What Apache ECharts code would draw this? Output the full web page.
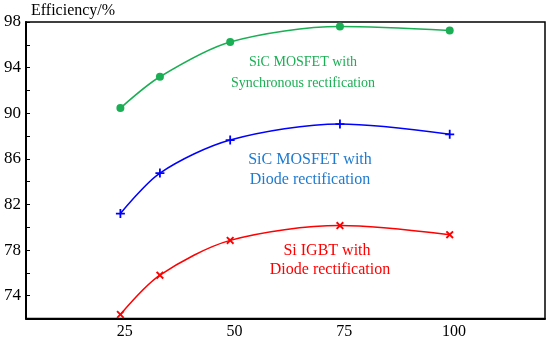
<!DOCTYPE html>
<html>
<head>
<meta charset="utf-8">
<script src="https://cdn.jsdelivr.net/npm/echarts@6/dist/echarts.min.js"></script>
<style>html,body{margin:0;padding:0;background:#fff}#c{width:550px;height:341px}</style>
</head>
<body>
<div id="c"></div>
<script>
const loads = [24, 33, 49, 74, 99];
const sicSync = [90.45, 93.2, 96.25, 97.6, 97.25];
const sicDiode = [81.2, 84.75, 87.65, 89.05, 88.15];
const siIgbt = [72.35, 75.8, 78.85, 80.15, 79.35];
const xTickLabels = [25, 50, 75, 100];
const yTickLabels = [74, 78, 82, 86, 90, 94, 98];

const FONT = '"Liberation Serif", "Times New Roman", serif';
const chart = echarts.init(document.getElementById('c'), null, {renderer: 'canvas'});
const pair = arr => loads.map((x, i) => [x, arr[i]]);
const plusPath = 'path://M-1,-5H1V-1H5V1H1V5H-1V1H-5V-1H-1Z';
const crossPath = 'path://M-4.2,-2.8L-2.8,-4.2L0,-1.4L2.8,-4.2L4.2,-2.8L1.4,0L4.2,2.8L2.8,4.2L0,1.4L-2.8,4.2L-4.2,2.8L-1.4,0Z';
const txt = (x, y, text, size, fill) => ({type: 'text', x, y, style: {text, font: size + 'px ' + FONT, fill, align: 'center', verticalAlign: 'middle'}});

chart.setOption({
  animation: false,
  backgroundColor: '#fff',
  grid: {left: 26, top: 22, right: 5, bottom: 22.5, show: true, borderColor: '#000', borderWidth: 1.5, containLabel: false},
  xAxis: {
    type: 'value', min: 2.5, max: 120.7,
    splitLine: {show: false},
    axisLine: {lineStyle: {color: '#000', width: 2}},
    axisTick: {show: false},
    axisLabel: {customValues: xTickLabels, color: '#000', fontFamily: FONT, fontSize: 16, margin: 5}
  },
  yAxis: {
    type: 'value', min: 72, max: 98, interval: 2,
    splitLine: {show: false},
    axisLine: {lineStyle: {color: '#000', width: 2}},
    axisTick: {inside: true, length: 4, lineStyle: {color: '#000', width: 1}},
    axisLabel: {
      color: '#000', fontFamily: FONT, fontSize: 17, margin: 5,
      formatter: v => yTickLabels.indexOf(v) >= 0 ? String(v) : ''
    }
  },
  graphic: [
    {type: 'text', left: 31, top: 3, style: {text: 'Efficiency/%', font: '16px ' + FONT, fill: '#000'}},
    txt(303, 62, 'SiC MOSFET with', 14, '#1aaf54'),
    txt(303, 83, 'Synchronous rectification', 14, '#1aaf54'),
    txt(310, 160, 'SiC MOSFET with', 16, '#1f7ad0'),
    txt(310, 180, 'Diode rectification', 16, '#1f7ad0'),
    txt(327, 251, 'Si IGBT with', 16, '#ff0000'),
    txt(330, 270, 'Diode rectification', 16, '#ff0000')
  ],
  series: [
    {type: 'line', data: pair(sicSync), smooth: 0.3, symbol: 'circle', symbolSize: 8,
     lineStyle: {color: '#1aaf54', width: 1.5}, itemStyle: {color: '#1aaf54'}},
    {type: 'line', data: pair(sicDiode), smooth: 0.3, symbol: plusPath, symbolSize: 9,
     lineStyle: {color: '#0000ff', width: 1.5}, itemStyle: {color: '#0000ff'}},
    {type: 'line', data: pair(siIgbt), smooth: 0.3, symbol: crossPath, symbolSize: 8,
     lineStyle: {color: '#ff0000', width: 1.5}, itemStyle: {color: '#ff0000'}}
  ]
});
</script>
</body>
</html>
